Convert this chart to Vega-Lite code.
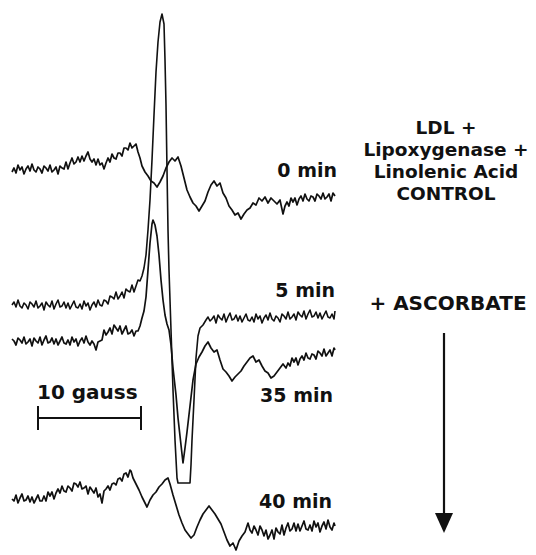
{
  "$schema": "https://vega.github.io/schema/vega-lite/v6.json",
  "width": 536,
  "height": 555,
  "padding": 0,
  "autosize": {"type": "fit", "contains": "padding"},
  "background": "white",
  "config": {"view": {"stroke": null}},
  "datasets": {
    "t0": [
      {"field":12,"amp":172},{"field":14,"amp":168},{"field":16,"amp":173},{"field":18,"amp":165},{"field":20,"amp":170},{"field":22,"amp":167},{"field":24,"amp":174},{"field":26,"amp":169},{"field":28,"amp":166},{"field":30,"amp":171},{"field":32,"amp":164},{"field":34,"amp":170},{"field":36,"amp":172},{"field":38,"amp":167},{"field":40,"amp":169},{"field":42,"amp":173},{"field":44,"amp":166},{"field":46,"amp":168},{"field":48,"amp":171},{"field":50,"amp":165},{"field":52,"amp":172},{"field":54,"amp":170},{"field":56,"amp":167},{"field":58,"amp":174},{"field":60,"amp":166},{"field":62,"amp":168},{"field":64,"amp":169},{"field":66,"amp":162},{"field":68,"amp":169},{"field":70,"amp":163},{"field":72,"amp":158},{"field":74,"amp":164},{"field":76,"amp":162},{"field":78,"amp":157},{"field":80,"amp":162},{"field":82,"amp":156},{"field":84,"amp":161},{"field":86,"amp":156},{"field":88,"amp":152},{"field":90,"amp":159},{"field":92,"amp":162},{"field":94,"amp":159},{"field":96,"amp":165},{"field":98,"amp":159},{"field":100,"amp":165},{"field":102,"amp":163},{"field":104,"amp":169},{"field":106,"amp":163},{"field":108,"amp":158},{"field":110,"amp":162},{"field":112,"amp":154},{"field":114,"amp":158},{"field":116,"amp":159},{"field":118,"amp":153},{"field":120,"amp":153},{"field":122,"amp":156},{"field":124,"amp":148},{"field":126,"amp":148},{"field":128,"amp":150},{"field":130,"amp":143},{"field":132,"amp":148},{"field":134,"amp":146},{"field":136,"amp":144},{"field":138,"amp":152},{"field":140,"amp":158},{"field":142,"amp":166},{"field":145,"amp":172},{"field":148,"amp":176},{"field":151,"amp":181},{"field":154,"amp":183},{"field":157,"amp":187},{"field":160,"amp":182},{"field":163,"amp":176},{"field":166,"amp":168},{"field":169,"amp":162},{"field":172,"amp":158},{"field":175,"amp":161},{"field":178,"amp":157},{"field":181,"amp":166},{"field":184,"amp":178},{"field":187,"amp":190},{"field":190,"amp":197},{"field":193,"amp":203},{"field":196,"amp":206},{"field":199,"amp":211},{"field":202,"amp":206},{"field":205,"amp":201},{"field":208,"amp":192},{"field":211,"amp":185},{"field":214,"amp":181},{"field":217,"amp":186},{"field":220,"amp":183},{"field":223,"amp":193},{"field":226,"amp":198},{"field":229,"amp":206},{"field":232,"amp":210},{"field":235,"amp":215},{"field":238,"amp":213},{"field":241,"amp":219},{"field":244,"amp":214},{"field":247,"amp":210},{"field":250,"amp":208},{"field":253,"amp":203},{"field":256,"amp":205},{"field":259,"amp":198},{"field":262,"amp":201},{"field":265,"amp":197},{"field":268,"amp":203},{"field":271,"amp":198},{"field":274,"amp":201},{"field":277,"amp":204},{"field":280,"amp":200},{"field":283,"amp":214},{"field":285,"amp":206},{"field":287,"amp":202},{"field":289,"amp":206},{"field":291,"amp":198},{"field":293,"amp":202},{"field":295,"amp":198},{"field":297,"amp":205},{"field":299,"amp":199},{"field":301,"amp":196},{"field":303,"amp":201},{"field":305,"amp":194},{"field":307,"amp":199},{"field":309,"amp":201},{"field":311,"amp":196},{"field":313,"amp":197},{"field":315,"amp":201},{"field":317,"amp":194},{"field":319,"amp":196},{"field":321,"amp":199},{"field":323,"amp":193},{"field":325,"amp":199},{"field":327,"amp":197},{"field":329,"amp":194},{"field":331,"amp":201},{"field":333,"amp":193},{"field":335,"amp":196}
    ],
    "t5": [
      {"field":12,"amp":305},{"field":14,"amp":302},{"field":16,"amp":307},{"field":18,"amp":300},{"field":20,"amp":306},{"field":22,"amp":308},{"field":24,"amp":303},{"field":26,"amp":305},{"field":28,"amp":309},{"field":30,"amp":302},{"field":32,"amp":304},{"field":34,"amp":307},{"field":36,"amp":301},{"field":38,"amp":308},{"field":40,"amp":306},{"field":42,"amp":303},{"field":44,"amp":310},{"field":46,"amp":302},{"field":48,"amp":305},{"field":50,"amp":307},{"field":52,"amp":301},{"field":54,"amp":309},{"field":56,"amp":304},{"field":58,"amp":300},{"field":60,"amp":307},{"field":62,"amp":306},{"field":64,"amp":302},{"field":66,"amp":308},{"field":68,"amp":303},{"field":70,"amp":309},{"field":72,"amp":305},{"field":74,"amp":301},{"field":76,"amp":307},{"field":78,"amp":308},{"field":80,"amp":304},{"field":82,"amp":309},{"field":84,"amp":301},{"field":86,"amp":306},{"field":88,"amp":303},{"field":90,"amp":310},{"field":92,"amp":305},{"field":94,"amp":302},{"field":96,"amp":307},{"field":98,"amp":300},{"field":100,"amp":305},{"field":102,"amp":306},{"field":104,"amp":300},{"field":106,"amp":301},{"field":108,"amp":304},{"field":110,"amp":296},{"field":112,"amp":297},{"field":114,"amp":299},{"field":116,"amp":292},{"field":118,"amp":299},{"field":120,"amp":296},{"field":122,"amp":292},{"field":124,"amp":298},{"field":126,"amp":289},{"field":128,"amp":291},{"field":130,"amp":292},{"field":132,"amp":285},{"field":134,"amp":292},{"field":136,"amp":286},{"field":138,"amp":280},{"field":140,"amp":281},{"field":142,"amp":276},{"field":144,"amp":268},{"field":146,"amp":255},{"field":148,"amp":230},{"field":150,"amp":200},{"field":152,"amp":160},{"field":154,"amp":115},{"field":156,"amp":72},{"field":158,"amp":42},{"field":160,"amp":22},{"field":162,"amp":14},{"field":164,"amp":24},{"field":165,"amp":60},{"field":166,"amp":105},{"field":167,"amp":170},{"field":168,"amp":230},{"field":169,"amp":270},{"field":171,"amp":330},{"field":173,"amp":390},{"field":175,"amp":440},{"field":177,"amp":478},{"field":178,"amp":483},{"field":190,"amp":483},{"field":191,"amp":465},{"field":192,"amp":440},{"field":194,"amp":400},{"field":196,"amp":358},{"field":198,"amp":336},{"field":200,"amp":328},{"field":203,"amp":325},{"field":206,"amp":320},{"field":208,"amp":317},{"field":210,"amp":321},{"field":212,"amp":319},{"field":214,"amp":316},{"field":216,"amp":323},{"field":218,"amp":315},{"field":220,"amp":318},{"field":222,"amp":320},{"field":224,"amp":314},{"field":226,"amp":322},{"field":228,"amp":317},{"field":230,"amp":313},{"field":232,"amp":320},{"field":234,"amp":319},{"field":236,"amp":315},{"field":238,"amp":321},{"field":240,"amp":316},{"field":242,"amp":322},{"field":244,"amp":318},{"field":246,"amp":314},{"field":248,"amp":320},{"field":250,"amp":321},{"field":252,"amp":317},{"field":254,"amp":322},{"field":256,"amp":314},{"field":258,"amp":319},{"field":260,"amp":316},{"field":262,"amp":323},{"field":264,"amp":318},{"field":266,"amp":315},{"field":268,"amp":320},{"field":270,"amp":313},{"field":272,"amp":319},{"field":274,"amp":321},{"field":276,"amp":316},{"field":278,"amp":318},{"field":280,"amp":322},{"field":282,"amp":314},{"field":284,"amp":316},{"field":286,"amp":319},{"field":288,"amp":312},{"field":290,"amp":319},{"field":292,"amp":317},{"field":294,"amp":314},{"field":296,"amp":320},{"field":298,"amp":312},{"field":300,"amp":315},{"field":302,"amp":317},{"field":304,"amp":311},{"field":306,"amp":319},{"field":308,"amp":314},{"field":310,"amp":310},{"field":312,"amp":317},{"field":314,"amp":316},{"field":316,"amp":312},{"field":318,"amp":318},{"field":320,"amp":313},{"field":322,"amp":319},{"field":324,"amp":315},{"field":326,"amp":311},{"field":328,"amp":317},{"field":330,"amp":318},{"field":332,"amp":314},{"field":334,"amp":319},{"field":335,"amp":311}
    ],
    "t35": [
      {"field":12,"amp":339},{"field":14,"amp":341},{"field":16,"amp":345},{"field":18,"amp":338},{"field":20,"amp":340},{"field":22,"amp":343},{"field":24,"amp":337},{"field":26,"amp":344},{"field":28,"amp":342},{"field":30,"amp":339},{"field":32,"amp":346},{"field":34,"amp":338},{"field":36,"amp":341},{"field":38,"amp":343},{"field":40,"amp":337},{"field":42,"amp":345},{"field":44,"amp":340},{"field":46,"amp":336},{"field":48,"amp":343},{"field":50,"amp":342},{"field":52,"amp":338},{"field":54,"amp":344},{"field":56,"amp":339},{"field":58,"amp":345},{"field":60,"amp":341},{"field":62,"amp":337},{"field":64,"amp":343},{"field":66,"amp":344},{"field":68,"amp":340},{"field":70,"amp":345},{"field":72,"amp":337},{"field":74,"amp":342},{"field":76,"amp":339},{"field":78,"amp":346},{"field":80,"amp":341},{"field":82,"amp":338},{"field":84,"amp":343},{"field":86,"amp":336},{"field":88,"amp":342},{"field":90,"amp":345},{"field":92,"amp":341},{"field":94,"amp":344},{"field":96,"amp":350},{"field":98,"amp":342},{"field":100,"amp":341},{"field":102,"amp":340},{"field":104,"amp":330},{"field":106,"amp":335},{"field":108,"amp":332},{"field":110,"amp":328},{"field":112,"amp":334},{"field":114,"amp":325},{"field":116,"amp":328},{"field":118,"amp":331},{"field":120,"amp":326},{"field":122,"amp":334},{"field":124,"amp":330},{"field":126,"amp":326},{"field":128,"amp":334},{"field":130,"amp":333},{"field":132,"amp":330},{"field":134,"amp":336},{"field":136,"amp":331},{"field":138,"amp":331},{"field":140,"amp":326},{"field":142,"amp":318},{"field":144,"amp":311},{"field":146,"amp":297},{"field":148,"amp":270},{"field":150,"amp":243},{"field":152,"amp":224},{"field":153,"amp":220},{"field":155,"amp":225},{"field":157,"amp":236},{"field":159,"amp":255},{"field":161,"amp":280},{"field":163,"amp":300},{"field":165,"amp":315},{"field":167,"amp":324},{"field":169,"amp":330},{"field":171,"amp":345},{"field":173,"amp":368},{"field":176,"amp":395},{"field":178,"amp":418},{"field":181,"amp":445},{"field":183,"amp":463},{"field":185,"amp":448},{"field":187,"amp":432},{"field":190,"amp":406},{"field":193,"amp":380},{"field":196,"amp":364},{"field":199,"amp":357},{"field":202,"amp":352},{"field":205,"amp":346},{"field":208,"amp":342},{"field":211,"amp":348},{"field":214,"amp":352},{"field":217,"amp":350},{"field":220,"amp":360},{"field":223,"amp":369},{"field":226,"amp":372},{"field":229,"amp":376},{"field":232,"amp":381},{"field":235,"amp":377},{"field":238,"amp":374},{"field":241,"amp":371},{"field":244,"amp":366},{"field":247,"amp":362},{"field":250,"amp":358},{"field":253,"amp":356},{"field":256,"amp":362},{"field":259,"amp":360},{"field":262,"amp":366},{"field":265,"amp":371},{"field":268,"amp":373},{"field":271,"amp":378},{"field":274,"amp":376},{"field":277,"amp":372},{"field":280,"amp":368},{"field":283,"amp":364},{"field":286,"amp":368},{"field":288,"amp":363},{"field":290,"amp":366},{"field":292,"amp":358},{"field":294,"amp":362},{"field":296,"amp":358},{"field":298,"amp":365},{"field":300,"amp":359},{"field":302,"amp":356},{"field":304,"amp":360},{"field":306,"amp":353},{"field":308,"amp":358},{"field":310,"amp":359},{"field":312,"amp":354},{"field":314,"amp":355},{"field":316,"amp":359},{"field":318,"amp":351},{"field":320,"amp":353},{"field":322,"amp":356},{"field":324,"amp":349},{"field":326,"amp":356},{"field":328,"amp":353},{"field":330,"amp":350},{"field":332,"amp":356},{"field":334,"amp":348},{"field":335,"amp":350}
    ],
    "t40": [
      {"field":12,"amp":499},{"field":14,"amp":501},{"field":16,"amp":495},{"field":18,"amp":503},{"field":20,"amp":498},{"field":22,"amp":494},{"field":24,"amp":501},{"field":26,"amp":500},{"field":28,"amp":496},{"field":30,"amp":502},{"field":32,"amp":497},{"field":34,"amp":503},{"field":36,"amp":499},{"field":38,"amp":495},{"field":40,"amp":501},{"field":42,"amp":501},{"field":44,"amp":496},{"field":46,"amp":501},{"field":48,"amp":492},{"field":50,"amp":496},{"field":52,"amp":492},{"field":54,"amp":499},{"field":56,"amp":493},{"field":58,"amp":489},{"field":60,"amp":493},{"field":62,"amp":486},{"field":64,"amp":491},{"field":66,"amp":492},{"field":68,"amp":486},{"field":70,"amp":488},{"field":72,"amp":491},{"field":74,"amp":483},{"field":76,"amp":484},{"field":78,"amp":487},{"field":80,"amp":482},{"field":82,"amp":489},{"field":84,"amp":488},{"field":86,"amp":486},{"field":88,"amp":494},{"field":90,"amp":487},{"field":92,"amp":490},{"field":94,"amp":493},{"field":96,"amp":488},{"field":98,"amp":497},{"field":100,"amp":494},{"field":102,"amp":503},{"field":104,"amp":491},{"field":106,"amp":489},{"field":108,"amp":486},{"field":110,"amp":490},{"field":112,"amp":484},{"field":114,"amp":483},{"field":116,"amp":485},{"field":118,"amp":479},{"field":120,"amp":478},{"field":122,"amp":481},{"field":124,"amp":474},{"field":126,"amp":473},{"field":128,"amp":477},{"field":130,"amp":470},{"field":131,"amp":471},{"field":133,"amp":478},{"field":136,"amp":484},{"field":139,"amp":490},{"field":142,"amp":497},{"field":145,"amp":503},{"field":147,"amp":507},{"field":150,"amp":500},{"field":153,"amp":495},{"field":156,"amp":492},{"field":159,"amp":487},{"field":162,"amp":484},{"field":165,"amp":480},{"field":168,"amp":478},{"field":170,"amp":484},{"field":173,"amp":495},{"field":176,"amp":505},{"field":179,"amp":515},{"field":182,"amp":523},{"field":185,"amp":530},{"field":188,"amp":534},{"field":191,"amp":538},{"field":194,"amp":535},{"field":197,"amp":527},{"field":200,"amp":520},{"field":203,"amp":514},{"field":206,"amp":510},{"field":209,"amp":506},{"field":212,"amp":510},{"field":215,"amp":514},{"field":218,"amp":519},{"field":221,"amp":524},{"field":224,"amp":532},{"field":227,"amp":540},{"field":230,"amp":546},{"field":233,"amp":543},{"field":236,"amp":550},{"field":239,"amp":541},{"field":242,"amp":536},{"field":245,"amp":532},{"field":248,"amp":523},{"field":250,"amp":530},{"field":252,"amp":533},{"field":254,"amp":526},{"field":256,"amp":530},{"field":258,"amp":535},{"field":260,"amp":526},{"field":262,"amp":530},{"field":264,"amp":536},{"field":266,"amp":530},{"field":268,"amp":539},{"field":270,"amp":535},{"field":272,"amp":530},{"field":274,"amp":539},{"field":276,"amp":528},{"field":278,"amp":532},{"field":280,"amp":534},{"field":282,"amp":525},{"field":284,"amp":535},{"field":286,"amp":528},{"field":288,"amp":523},{"field":290,"amp":531},{"field":292,"amp":529},{"field":294,"amp":523},{"field":296,"amp":531},{"field":298,"amp":524},{"field":300,"amp":531},{"field":302,"amp":526},{"field":304,"amp":521},{"field":306,"amp":529},{"field":308,"amp":530},{"field":310,"amp":525},{"field":312,"amp":531},{"field":314,"amp":521},{"field":316,"amp":527},{"field":318,"amp":523},{"field":320,"amp":532},{"field":322,"amp":526},{"field":324,"amp":522},{"field":326,"amp":529},{"field":328,"amp":520},{"field":330,"amp":527},{"field":332,"amp":530},{"field":334,"amp":523},{"field":335,"amp":526}
    ]
  },
  "encoding": {
    "x": {"field": "field", "type": "quantitative", "scale": {"domain": [0, 536], "nice": false, "zero": false}, "axis": null},
    "y": {"field": "amp", "type": "quantitative", "scale": {"domain": [0, 555], "nice": false, "zero": false, "reverse": true}, "axis": null}
  },
  "layer": [
    {"data": {"name": "t0"}, "mark": {"type": "line", "color": "#111", "strokeWidth": 1.7, "strokeJoin": "round"}},
    {"data": {"name": "t5"}, "mark": {"type": "line", "color": "#111", "strokeWidth": 1.6, "strokeJoin": "round"}},
    {"data": {"name": "t35"}, "mark": {"type": "line", "color": "#111", "strokeWidth": 1.7, "strokeJoin": "round"}},
    {"data": {"name": "t40"}, "mark": {"type": "line", "color": "#111", "strokeWidth": 1.7, "strokeJoin": "round"}},
    {
      "data": {"values": [{"field": 38, "field2": 141, "amp": 418}]},
      "mark": {"type": "rule", "color": "#111", "strokeWidth": 2},
      "encoding": {"x2": {"field": "field2"}}
    },
    {
      "data": {"values": [{"field": 38, "amp": 406, "amp2": 430}, {"field": 141, "amp": 406, "amp2": 430}]},
      "mark": {"type": "rule", "color": "#111", "strokeWidth": 2},
      "encoding": {"y2": {"field": "amp2"}}
    },
    {
      "data": {"values": [{"field": 444, "amp": 333, "amp2": 516}]},
      "mark": {"type": "rule", "color": "#111", "strokeWidth": 2.2},
      "encoding": {"y2": {"field": "amp2"}}
    },
    {
      "data": {"values": [{"field": 444, "amp": 523}]},
      "mark": {"type": "point", "shape": "M-0.9,-1L0.9,-1L0,1Z", "size": 400, "filled": true, "color": "#111", "opacity": 1}
    },
    {
      "data": {"values": [
        {"field": 337, "amp": 177, "label": "0 min"},
        {"field": 335, "amp": 297, "label": "5 min"},
        {"field": 333, "amp": 402, "label": "35 min"},
        {"field": 332, "amp": 508, "label": "40 min"}
      ]},
      "mark": {"type": "text", "align": "right", "baseline": "alphabetic", "font": "DejaVu Sans", "fontWeight": "bold", "fontSize": 19, "color": "#111"},
      "encoding": {"text": {"field": "label"}}
    },
    {
      "data": {"values": [
        {"field": 446, "amp": 134, "label": "LDL +"},
        {"field": 446, "amp": 156, "label": "Lipoxygenase +"},
        {"field": 446, "amp": 178, "label": "Linolenic Acid"},
        {"field": 446, "amp": 200, "label": "CONTROL"}
      ]},
      "mark": {"type": "text", "align": "center", "baseline": "alphabetic", "font": "DejaVu Sans", "fontWeight": "bold", "fontSize": 18.5, "color": "#111"},
      "encoding": {"text": {"field": "label"}}
    },
    {
      "data": {"values": [{"field": 448, "amp": 310, "label": "+ ASCORBATE"}]},
      "mark": {"type": "text", "align": "center", "baseline": "alphabetic", "font": "DejaVu Sans", "fontWeight": "bold", "fontSize": 20, "color": "#111"},
      "encoding": {"text": {"field": "label"}}
    },
    {
      "data": {"values": [{"field": 37, "amp": 399, "label": "10 gauss"}]},
      "mark": {"type": "text", "align": "left", "baseline": "alphabetic", "font": "DejaVu Sans", "fontWeight": "bold", "fontSize": 20, "color": "#111"},
      "encoding": {"text": {"field": "label"}}
    }
  ]
}
